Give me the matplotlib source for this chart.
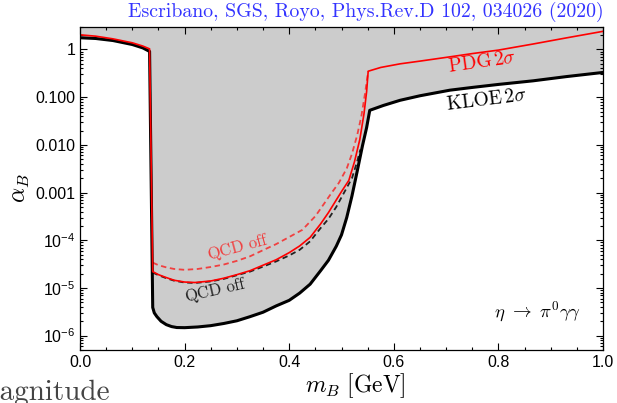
import numpy as np
import matplotlib
matplotlib.use("Agg")
import matplotlib.pyplot as plt

# eta -> pi0 gamma gamma bounds on alpha_B vs m_B
kloe_x = [0.0, 0.03, 0.063, 0.1, 0.12, 0.133, 0.139, 0.142, 0.147, 0.155, 0.165, 0.175, 0.185,
          0.20, 0.225, 0.25, 0.275, 0.30, 0.325, 0.35, 0.375, 0.40, 0.42, 0.44, 0.46, 0.475,
          0.49, 0.50, 0.51, 0.52, 0.53, 0.54, 0.548, 0.554, 0.58, 0.612, 0.65, 0.707, 0.75,
          0.8, 0.866, 0.93, 1.0]
kloe_y = [1.76, 1.7, 1.54, 1.27, 1.08, 0.91, 3.9e-6, 3.0e-6, 2.5e-6, 2.0e-6, 1.7e-6, 1.55e-6, 1.48e-6,
          1.47e-6, 1.52e-6, 1.62e-6, 1.8e-6, 2.05e-6, 2.5e-6, 3.1e-6, 4.2e-6, 5.5e-6, 7.8e-6, 1.2e-5,
          2.3e-5, 3.8e-5, 7.5e-5, 1.3e-4, 3.0e-4, 8.5e-4, 2.8e-3, 9.5e-3, 2.3e-2, 0.053, 0.067, 0.086,
          0.107, 0.14, 0.16, 0.185, 0.22, 0.27, 0.33]

pdg_x = [0.0, 0.03, 0.063, 0.1, 0.12, 0.133, 0.139, 0.15, 0.165, 0.18, 0.20, 0.22, 0.25, 0.275,
         0.30, 0.325, 0.35, 0.375, 0.40, 0.42, 0.44, 0.46, 0.475, 0.49, 0.50, 0.514, 0.525, 0.535,
         0.543, 0.548, 0.551, 0.575, 0.612, 0.65, 0.707, 0.75, 0.8, 0.866, 0.93, 1.0]
pdg_y = [2.03, 1.9, 1.67, 1.38, 1.18, 1.03, 2.2e-5, 1.9e-5, 1.65e-5, 1.45e-5, 1.33e-5, 1.3e-5, 1.4e-5,
         1.6e-5, 1.9e-5, 2.3e-5, 3.0e-5, 3.9e-5, 5.5e-5, 7.6e-5, 1.15e-4, 2.2e-4, 3.8e-4, 7e-4, 1.05e-3,
         1.8e-3, 4.5e-3, 1.3e-2, 4.5e-2, 0.13, 0.35, 0.42, 0.5, 0.57, 0.7, 0.82, 0.97, 1.3, 1.75, 2.4]

pdg_off_x = [0.139, 0.15, 0.165, 0.18, 0.20, 0.225, 0.25, 0.275, 0.30, 0.325, 0.35, 0.375, 0.40,
             0.425, 0.45, 0.465, 0.48, 0.495, 0.51, 0.52, 0.53, 0.538, 0.545, 0.551]
pdg_off_y = [3.4e-5, 3.0e-5, 2.7e-5, 2.5e-5, 2.4e-5, 2.5e-5, 2.75e-5, 3.1e-5, 3.7e-5, 4.6e-5, 6.2e-5,
             8.3e-5, 1.17e-4, 1.65e-4, 3.2e-4, 5.5e-4, 9.5e-4, 1.6e-3, 3.2e-3, 6.5e-3, 1.6e-2, 4e-2,
             0.12, 0.35]

kloe_off_x = [0.139, 0.15, 0.165, 0.18, 0.20, 0.22, 0.25, 0.275, 0.30, 0.325, 0.35, 0.375, 0.40,
              0.42, 0.44, 0.46, 0.475, 0.49, 0.505, 0.52, 0.53, 0.536]
kloe_off_y = [2.1e-5, 1.85e-5, 1.6e-5, 1.42e-5, 1.3e-5, 1.27e-5, 1.37e-5, 1.55e-5, 1.85e-5, 2.2e-5,
              2.8e-5, 3.6e-5, 4.8e-5, 6.3e-5, 9.5e-5, 1.8e-4, 2.8e-4, 5e-4, 1.0e-3, 2.0e-3, 4.5e-3, 8e-3]

ytick_vals = [1, 0.1, 0.01, 0.001, 1e-4, 1e-5, 1e-6]
ytick_labels = ["1", "0.100", "0.010", "0.001", r"$10^{-4}$", r"$10^{-5}$", r"$10^{-6}$"]
xtick_vals = [0.0, 0.2, 0.4, 0.6, 0.8, 1.0]
xtick_labels = ["0.0", "0.2", "0.4", "0.6", "0.8", "1.0"]

plt.rcParams['font.family'] = ['Liberation Sans', 'DejaVu Sans']
plt.rcParams['mathtext.fontset'] = 'custom'
plt.rcParams['mathtext.rm'] = 'Liberation Sans'
plt.rcParams['mathtext.it'] = 'Liberation Sans:italic'

fig = plt.figure(figsize=(6.17, 4.03), dpi=100)
ax = fig.add_axes([0.1297, 0.1315, 0.8476, 0.8022])

ax.fill_between(kloe_x, kloe_y, 10, color='#cccccc', lw=0)
ax.plot(kloe_off_x, kloe_off_y, color='#222222', lw=1.3, ls=(0, (3, 2)))
ax.plot(pdg_off_x, pdg_off_y, color='#f04040', lw=1.3, ls=(0, (3, 2)))
ax.plot(kloe_x, kloe_y, color='black', lw=2.2)
ax.plot(pdg_x, pdg_y, color='red', lw=1.2)

ax.set_yscale('log')
ax.set_xlim(0, 1)
ax.set_ylim(5e-7, 3)
ax.set_yticks(ytick_vals)
ax.set_yticklabels(ytick_labels)
ax.set_xticks(xtick_vals)
ax.set_xticklabels(xtick_labels)
ax.set_xticks(np.arange(0, 1.001, 0.05), minor=True)
ax.tick_params(which='both', direction='in', top=True, right=True, labelsize=11.5, width=0.8)
ax.tick_params(which='major', length=5)
ax.tick_params(which='minor', length=2.5)
for s in ax.spines.values():
    s.set_linewidth(0.9)

ax.set_xlabel(r"$m_B\ [\mathrm{GeV}]$", fontsize=17, math_fontfamily='cm')
ax.xaxis.set_label_coords(0.526, -0.065)
ax.set_ylabel(r"$\alpha_B$", fontsize=17, math_fontfamily='cm')
ax.yaxis.set_label_coords(-0.092, 0.5)

ax.text(0.769, 0.54, r"$\mathrm{PDG}\,2\sigma$", color='red', fontsize=14, rotation=8,
        ha='center', va='center', math_fontfamily='cm')
ax.text(0.778, 0.087, r"$\mathrm{KLOE}\,2\sigma$", color='black', fontsize=14, rotation=7,
        ha='center', va='center', math_fontfamily='cm')
ax.text(0.302, 6.9e-5, r"$\mathrm{QCD\ off}$", color='#f04040', fontsize=12, rotation=15,
        ha='center', va='center', math_fontfamily='cm')
ax.text(0.26, 8.7e-6, r"$\mathrm{QCD\ off}$", color='#222222', fontsize=12, rotation=13,
        ha='center', va='center', math_fontfamily='cm')
ax.text(0.874, 3.1e-6, r"$\eta\ \rightarrow\ \pi^0\gamma\gamma$", fontsize=13.5,
        ha='center', va='center', math_fontfamily='cm')

fig.text(0.979, 0.957, "Escribano, SGS, Royo, Phys.Rev.D 102, 034026 (2020)",
         color='#3333ff', fontsize=14.3, ha='right', va='baseline', family='cmr10')
fig.text(-0.044, 0.008, "Magnitude", fontsize=21, color='#444444',
         ha='left', va='baseline', family='cmr10')

fig.savefig("out.png", dpi=100)
